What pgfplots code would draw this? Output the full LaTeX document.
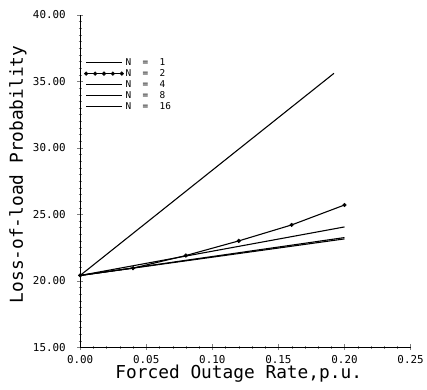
\documentclass[border=0pt]{standalone}
\usepackage{fontspec}
\setmainfont{DejaVu Sans Mono}
\usepackage{pgfplots}
\pgfplotsset{compat=1.18}
\begin{document}
\begin{tikzpicture}
\begin{axis}[
  scale only axis,
  width=334pt, height=336pt,
  xmin=0, xmax=0.25, ymin=15, ymax=40,
  axis lines=left,
  axis line style={-, line width=0.9pt},
  xtick={0,0.05,...,0.25},
  ytick={15,20,...,40},
  minor x tick num=4,
  minor y tick num=9,
  tick align=center,
  major tick length=6pt,
  minor tick length=3pt,
  /pgf/number format/assume math mode=true,
  xticklabel style={font=\fontsize{11}{11}\selectfont, yshift=-2pt, /pgf/number format/.cd, fixed, fixed zerofill, precision=2},
  yticklabel style={font=\fontsize{11}{11}\selectfont, xshift=-8pt, /pgf/number format/.cd, fixed, fixed zerofill, precision=2},
  scaled ticks=false,
  xlabel={Forced Outage Rate,p.u.},
  ylabel={Loss-of-load Probability},
  every axis x label/.style={at={(axis description cs:0.48,0)}, yshift=-27pt, anchor=center, font=\fontsize{18}{18}\selectfont},
  every axis y label/.style={at={(axis description cs:0,0.52)}, xshift=-63pt, rotate=90, anchor=center, font=\fontsize{18}{18}\selectfont},
  legend style={draw=none, fill=none, at={(0.012,0.875)}, anchor=north west, font=\fontsize{9.5}{9.5}\selectfont, row sep=-1.5pt, inner sep=0pt},
  legend image code/.code={\draw[mark repeat=1,#1] plot coordinates {(0pt,0pt) (9pt,0pt) (18pt,0pt) (27pt,0pt) (36pt,0pt)};},
  legend cell align=left,
  every axis plot/.append style={black, line width=1.1pt},
]
\addplot[mark=none] coordinates {(0,20.4) (0.192,35.6)};
\addlegendentry{N~~=~~1}
\addplot[mark=*, mark size=1.9pt, mark options={solid, line width=0.4pt}] coordinates {(0,20.4) (0.04,20.95) (0.08,21.9) (0.12,23.0) (0.16,24.2) (0.2,25.7)};
\addlegendentry{N~~=~~2}
\addplot[mark=none] coordinates {(0,20.4) (0.2,24.05)};
\addlegendentry{N~~=~~4}
\addplot[mark=none] coordinates {(0,20.4) (0.2,23.25)};
\addlegendentry{N~~=~~8}
\addplot[mark=none] coordinates {(0,20.4) (0.2,23.15)};
\addlegendentry{N~~=~~16}
\end{axis}
\useasboundingbox ([xshift=-81pt,yshift=-43pt]current axis.south west) rectangle ([xshift=12pt,yshift=15pt]current axis.north east);
\end{tikzpicture}
\end{document}
